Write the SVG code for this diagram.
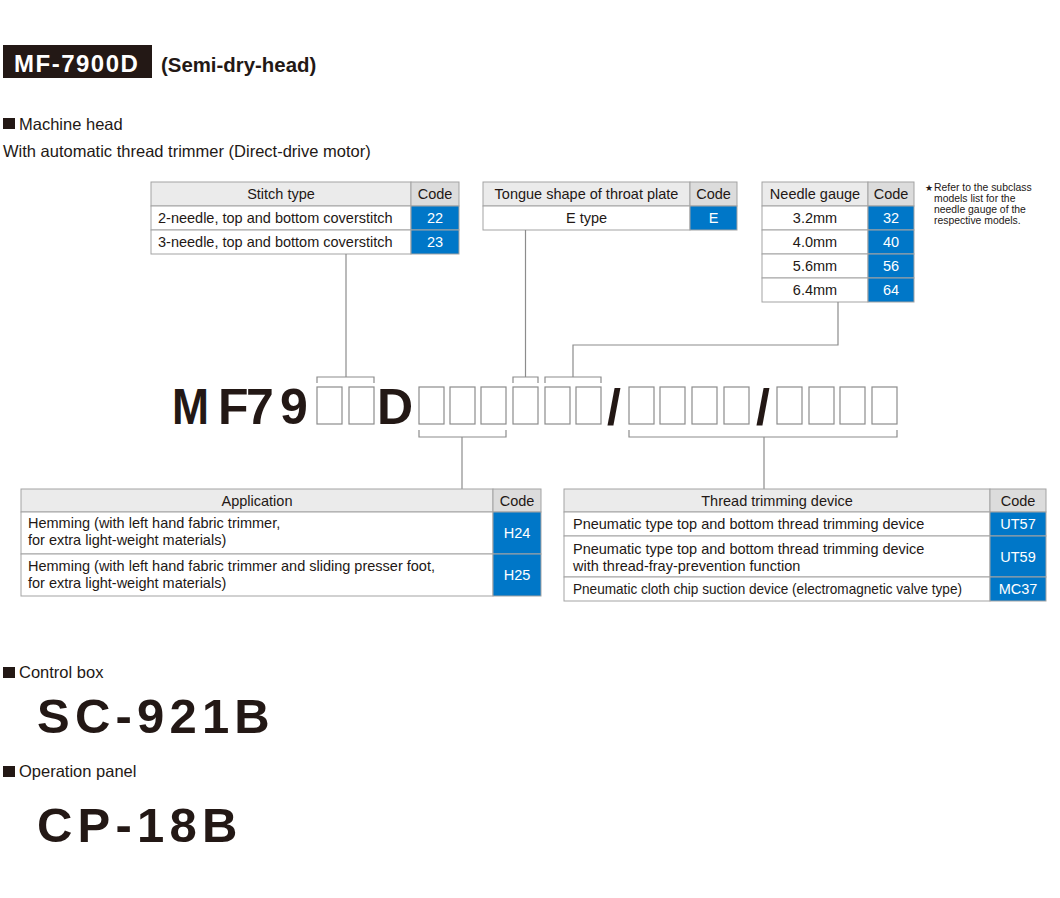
<svg xmlns="http://www.w3.org/2000/svg" width="1060" height="898" viewBox="0 0 1060 898">
<style>
text{font-family:"Liberation Sans",Arial,sans-serif;fill:#231815}
.s{font-size:14.5px}
.m{text-anchor:middle}
.w{fill:#fff}
.b{font-weight:bold}
.cell{fill:#fff;stroke:#a3a3a3;stroke-width:1}
.hd{fill:#ebebeb;stroke:#a3a3a3;stroke-width:1}
.hdc{fill:#dcdcdc;stroke:#a3a3a3;stroke-width:1}
.code{fill:#0077c8;stroke:#a3a3a3;stroke-width:1}
.box{fill:none;stroke:#8c8c8c;stroke-width:1.2}
.ln{fill:none;stroke:#8c8c8c;stroke-width:1.2}
.big{font-size:49px;font-weight:bold;letter-spacing:5.2px}
.sec{font-size:16.5px}
.mc{font-size:50px;font-weight:bold}
</style>
<rect width="1060" height="898" fill="#fff"/>

<g id="title">
<rect x="3" y="45" width="149" height="33" fill="#231815"/>
<text x="14" y="72" class="b w" style="font-size:24px;letter-spacing:1.5px">MF-7900D</text>
<text x="161" y="72" class="b" style="font-size:20.4px">(Semi-dry-head)</text>
</g>

<g id="machine-head-heading">
<rect x="3" y="118" width="12" height="11" fill="#231815"/>
<text x="19" y="130" class="sec">Machine head</text>
<text x="3" y="157" class="sec">With automatic thread trimmer (Direct-drive motor)</text>
</g>

<g id="stitch-type">
<rect x="151" y="182" width="260" height="24" class="hd"/>
<rect x="411" y="182" width="48" height="24" class="hdc"/>
<rect x="151" y="206" width="260" height="24" class="cell"/>
<rect x="411" y="206" width="48" height="24" class="code"/>
<rect x="151" y="230" width="260" height="24" class="cell"/>
<rect x="411" y="230" width="48" height="24" class="code"/>
<text x="281" y="199" class="s m">Stitch type</text>
<text x="435" y="199" class="s m">Code</text>
<text x="158" y="223" class="s">2-needle, top and bottom coverstitch</text>
<text x="435" y="223" class="s m w">22</text>
<text x="158" y="247" class="s">3-needle, top and bottom coverstitch</text>
<text x="435" y="247" class="s m w">23</text>
</g>

<g id="tongue-shape">
<rect x="483" y="182" width="207" height="24" class="hd"/>
<rect x="690" y="182" width="47" height="24" class="hdc"/>
<rect x="483" y="206" width="207" height="24" class="cell"/>
<rect x="690" y="206" width="47" height="24" class="code"/>
<text x="586.5" y="199" class="s m">Tongue shape of throat plate</text>
<text x="713.5" y="199" class="s m">Code</text>
<text x="586.5" y="223" class="s m">E type</text>
<text x="713.5" y="223" class="s m w">E</text>
</g>

<g id="needle-gauge">
<rect x="762" y="182" width="106" height="24" class="hd"/>
<rect x="868" y="182" width="46" height="24" class="hdc"/>
<rect x="762" y="206" width="106" height="24" class="cell"/>
<rect x="868" y="206" width="46" height="24" class="code"/>
<rect x="762" y="230" width="106" height="24" class="cell"/>
<rect x="868" y="230" width="46" height="24" class="code"/>
<rect x="762" y="254" width="106" height="24" class="cell"/>
<rect x="868" y="254" width="46" height="24" class="code"/>
<rect x="762" y="278" width="106" height="24" class="cell"/>
<rect x="868" y="278" width="46" height="24" class="code"/>
<text x="815" y="199" class="s m">Needle gauge</text>
<text x="891" y="199" class="s m">Code</text>
<text x="815" y="223" class="s m">3.2mm</text>
<text x="891" y="223" class="s m w">32</text>
<text x="815" y="247" class="s m">4.0mm</text>
<text x="891" y="247" class="s m w">40</text>
<text x="815" y="271" class="s m">5.6mm</text>
<text x="891" y="271" class="s m w">56</text>
<text x="815" y="295" class="s m">6.4mm</text>
<text x="891" y="295" class="s m w">64</text>
</g>

<g id="note" style="font-size:10.4px">
<text x="925" y="191" style="font-size:9px">★</text>
<text x="934" y="191">Refer to the subclass</text>
<text x="934" y="202">models list for the</text>
<text x="934" y="213">needle gauge of the</text>
<text x="934" y="224">respective models.</text>
</g>

<g id="model-code">
<text x="172" y="424" class="mc" textLength="37" lengthAdjust="spacingAndGlyphs">M</text>
<text x="218" y="424" class="mc">F</text>
<text x="246" y="424" class="mc">7</text>
<text x="280" y="424" class="mc">9</text>
<text x="377" y="424" class="mc">D</text>
<text x="607" y="424" class="mc">/</text>
<text x="756" y="424" class="mc">/</text>
<rect x="317" y="387" width="25" height="37" class="box"/>
<rect x="349" y="387" width="25" height="37" class="box"/>
<rect x="419" y="387" width="25" height="37" class="box"/>
<rect x="450" y="387" width="25" height="37" class="box"/>
<rect x="481" y="387" width="25" height="37" class="box"/>
<rect x="513" y="387" width="25" height="37" class="box"/>
<rect x="545" y="387" width="25" height="37" class="box"/>
<rect x="576" y="387" width="25" height="37" class="box"/>
<rect x="629" y="387" width="25" height="37" class="box"/>
<rect x="660" y="387" width="25" height="37" class="box"/>
<rect x="692" y="387" width="25" height="37" class="box"/>
<rect x="724" y="387" width="25" height="37" class="box"/>
<rect x="777" y="387" width="25" height="37" class="box"/>
<rect x="809" y="387" width="25" height="37" class="box"/>
<rect x="840" y="387" width="25" height="37" class="box"/>
<rect x="872" y="387" width="25" height="37" class="box"/>
</g>

<g id="connectors" class="ln">
<path d="M317 383V377H374V383" class="ln"/>
<path d="M513 383V377H538V383" class="ln"/>
<path d="M545 383V377H601V383" class="ln"/>
<path d="M419 430V437H506V430" class="ln"/>
<path d="M629 430V437H897V430" class="ln"/>
<path d="M346 254V377" class="ln"/>
<path d="M525.5 230V377" class="ln"/>
<path d="M838 302V345H573V377" class="ln"/>
<path d="M462 437V489" class="ln"/>
<path d="M764 437V489" class="ln"/>
</g>

<g id="application">
<rect x="21" y="489" width="472" height="23" class="hd"/>
<rect x="493" y="489" width="48" height="23" class="hdc"/>
<rect x="21" y="512" width="472" height="42" class="cell"/>
<rect x="493" y="512" width="48" height="42" class="code"/>
<rect x="21" y="554" width="472" height="42" class="cell"/>
<rect x="493" y="554" width="48" height="42" class="code"/>
<text x="257" y="506" class="s m">Application</text>
<text x="517" y="506" class="s m">Code</text>
<text x="28" y="528" class="s">Hemming (with left hand fabric trimmer,</text>
<text x="28" y="545" class="s">for extra light-weight materials)</text>
<text x="517" y="538" class="s m w">H24</text>
<text x="28" y="571" class="s">Hemming (with left hand fabric trimmer and sliding presser foot,</text>
<text x="28" y="588" class="s">for extra light-weight materials)</text>
<text x="517" y="580" class="s m w">H25</text>
</g>

<g id="thread-trimming">
<rect x="564" y="489" width="426" height="23" class="hd"/>
<rect x="990" y="489" width="56" height="23" class="hdc"/>
<rect x="564" y="512" width="426" height="24" class="cell"/>
<rect x="990" y="512" width="56" height="24" class="code"/>
<rect x="564" y="536" width="426" height="41" class="cell"/>
<rect x="990" y="536" width="56" height="41" class="code"/>
<rect x="564" y="577" width="426" height="24" class="cell"/>
<rect x="990" y="577" width="56" height="24" class="code"/>
<text x="777" y="506" class="s m">Thread trimming device</text>
<text x="1018" y="506" class="s m">Code</text>
<text x="573" y="529" class="s">Pneumatic type top and bottom thread trimming device</text>
<text x="1018" y="529" class="s m w">UT57</text>
<text x="573" y="554" class="s">Pneumatic type top and bottom thread trimming device</text>
<text x="573" y="571" class="s">with thread-fray-prevention function</text>
<text x="1018" y="562" class="s m w">UT59</text>
<text x="573" y="594" class="s" textLength="389" lengthAdjust="spacingAndGlyphs">Pneumatic cloth chip suction device (electromagnetic valve type)</text>
<text x="1018" y="594" class="s m w">MC37</text>
</g>

<g id="control-box">
<rect x="3" y="667" width="12" height="11" fill="#231815"/>
<text x="19" y="678" class="sec">Control box</text>
<text x="37" y="733" class="big">SC-921B</text>
</g>

<g id="operation-panel">
<rect x="3" y="766" width="12" height="11" fill="#231815"/>
<text x="19" y="777" class="sec">Operation panel</text>
<text x="37" y="842" class="big">CP-18B</text>
</g>
</svg>
